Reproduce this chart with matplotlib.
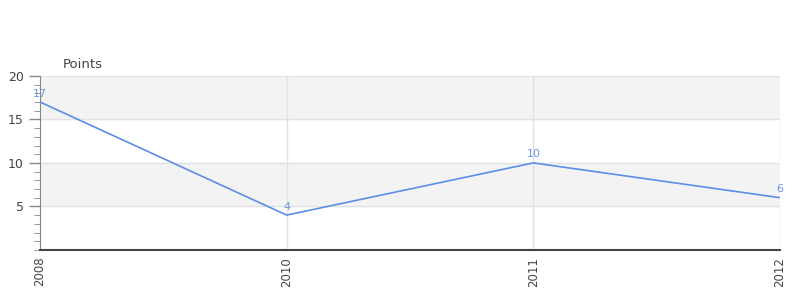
import matplotlib.pyplot as plt
from matplotlib.ticker import MultipleLocator

years = ['2008', '2010', '2011', '2012']
points = [17, 4, 10, 6]

fig = plt.figure(figsize=(8, 3), dpi=100)
ax = fig.add_axes([0.05, 0.167, 0.925, 0.58])

x = range(len(years))
ax.set_xlim(0, len(years) - 1)
ax.set_ylim(0, 20)

# alternating bands
ax.axhspan(15, 20, color='#f3f3f3', zorder=0)
ax.axhspan(5, 10, color='#f3f3f3', zorder=0)

ax.plot(x, points, color='#5b8ee6', linewidth=1.2, zorder=3)
for xi, v in zip(x, points):
    ax.text(xi, v + 0.4, str(v), color='#6f94e0', fontsize=8, ha='center', va='bottom', zorder=4)

ax.axhline(0, color='#cc0000', linewidth=0.8, zorder=5)

ax.set_xticks(list(x))
ax.set_xticklabels(years, rotation=90, fontsize=8.5, color='#444444')
ax.set_yticks([5, 10, 15, 20])
ax.yaxis.set_minor_locator(MultipleLocator(1))
ax.tick_params(axis='y', labelsize=9, colors='#444444', length=8, width=1, direction='out')
ax.tick_params(axis='y', which='minor', length=4, color='#888888')
ax.tick_params(axis='y', which='major', color='#888888')
ax.tick_params(axis='x', length=0, pad=5)

ax.grid(True, color='#e2e2e2', linewidth=1, zorder=1)
ax.set_axisbelow(True)

for s in ['top', 'right']:
    ax.spines[s].set_visible(False)
ax.spines['left'].set_color('#888888')
ax.spines['bottom'].set_color('#444444')
ax.spines['bottom'].set_linewidth(1.5)
ax.spines['bottom'].set_zorder(4)

fig.text(0.078, 0.765, 'Points', fontsize=9.5, color='#444444', ha='left', va='bottom')

fig.savefig('out.png', dpi=100)
